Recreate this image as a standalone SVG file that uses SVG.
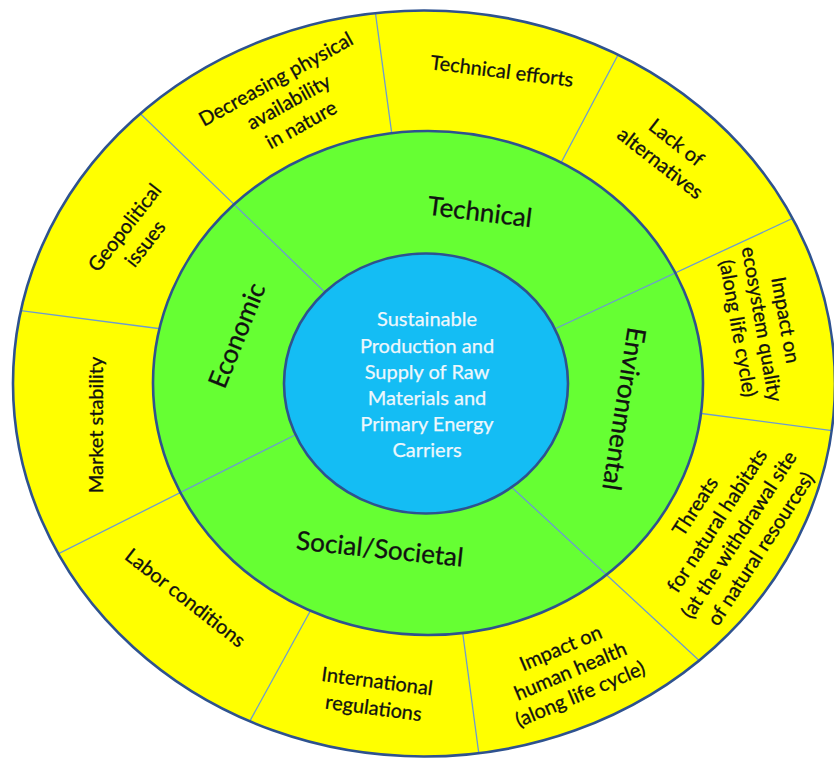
<svg xmlns="http://www.w3.org/2000/svg" width="834" height="759" viewBox="0 0 834 759">
  <style>
    .ring { stroke: none; }
    .border { fill: none; stroke: #2e528f; stroke-width: 2.6; }
    .div { stroke: #6c9bd0; stroke-width: 1.3; fill: none; }
    .lbl { font-family: Lato, "Open Sans", "Liberation Sans", sans-serif; font-size: 20px; fill: #111; stroke: #111; stroke-width: 0.3; text-anchor: middle; dominant-baseline: central; }
    .cat { font-family: Lato, "Open Sans", "Liberation Sans", sans-serif; font-size: 26px; fill: #111; stroke: #111; stroke-width: 0.3; text-anchor: middle; dominant-baseline: central; }
    .core { font-family: Lato, "Open Sans", "Liberation Sans", sans-serif; font-size: 20px; fill: #eef7fc; stroke: #eef7fc; stroke-width: 0.25; text-anchor: middle; dominant-baseline: central; }
  </style>
  <defs>
    <clipPath id="clipYellow">
      <path clip-rule="evenodd" d="M13,383.5 a411,373 0 1,0 822,0 a411,373 0 1,0 -822,0 Z M153,383 a275,252 0 1,0 550,0 a275,252 0 1,0 -550,0 Z"/>
    </clipPath>
    <clipPath id="clipOuterBlue">
      <path clip-rule="evenodd" d="M13,383.5 a411,373 0 1,0 822,0 a411,373 0 1,0 -822,0 Z M284,383.5 a142,130 0 1,0 284,0 a142,130 0 1,0 -284,0 Z"/>
    </clipPath>
  </defs>

  <g id="outer-ring">
    <ellipse class="ring" cx="424" cy="383.5" rx="411" ry="373" fill="#ffff00"/>
  </g>
  <g id="middle-ring">
    <ellipse class="ring" cx="428" cy="383" rx="275" ry="252" fill="#66ff33"/>
  </g>
  <g id="core-circle">
    <ellipse class="ring" cx="426" cy="383.5" rx="142" ry="130" fill="#14bdf4"/>
  </g>

  <g id="connectors">
    <g clip-path="url(#clipYellow)">
      <line class="div" x1="394" y1="150" x2="373" y2="-5"/>
      <line class="div" x1="553" y1="178" x2="628" y2="36"/>
      <line class="div" x1="690" y1="412" x2="850" y2="433"/>
      <line class="div" x1="461" y1="620" x2="481" y2="770"/>
      <line class="div" x1="318" y1="597" x2="240" y2="739"/>
      <line class="div" x1="170" y1="330" x2="0" y2="308"/>
    </g>
    <g clip-path="url(#clipOuterBlue)">
      <line class="div" x1="335" y1="302" x2="120" y2="94"/>
      <line class="div" x1="546" y1="333" x2="830" y2="201"/>
      <line class="div" x1="505" y1="481" x2="730" y2="689"/>
      <line class="div" x1="303" y1="431" x2="30" y2="568"/>
    </g>
  </g>

  <g id="borders">
    <ellipse class="border" cx="424" cy="383.5" rx="411" ry="373"/>
    <ellipse class="border" cx="428" cy="383" rx="275" ry="252"/>
    <ellipse class="border" cx="426" cy="383.5" rx="142" ry="130"/>
  </g>

  <g id="center">
    <text class="core" x="427" y="318">Sustainable</text>
    <text class="core" x="427" y="344.5">Production and</text>
    <text class="core" x="427" y="370.5">Supply of Raw</text>
    <text class="core" x="427" y="396.5">Materials and</text>
    <text class="core" x="427" y="422.5">Primary Energy</text>
    <text class="core" x="427" y="448.5">Carriers</text>
  </g>

  <g id="cat-technical" transform="translate(480,211) rotate(7)">
    <text class="cat" x="0" y="0">Technical</text>
  </g>
  <g id="cat-environmental" transform="translate(625,409) rotate(99)">
    <text class="cat" x="0" y="0">Environmental</text>
  </g>
  <g id="cat-social" transform="translate(380,548) rotate(6)">
    <text class="cat" x="0" y="0">Social/Societal</text>
  </g>
  <g id="cat-economic" transform="translate(236,335) rotate(-68)">
    <text class="cat" x="0" y="0">Economic</text>
  </g>

  <g id="lbl-decreasing" transform="translate(288,101) rotate(-29)">
    <text class="lbl" x="0" y="-26">Decreasing physical</text>
    <text class="lbl" x="0" y="0">availability</text>
    <text class="lbl" x="0" y="26">in nature</text>
  </g>
  <g id="lbl-technical-efforts" transform="translate(502,70) rotate(7)">
    <text class="lbl" x="0" y="0">Technical efforts</text>
  </g>
  <g id="lbl-lack" transform="translate(669,152) rotate(38)">
    <text class="lbl" x="0" y="-13">Lack of</text>
    <text class="lbl" x="0" y="13">alternatives</text>
  </g>
  <g id="lbl-ecosystem" transform="translate(763,324) rotate(80)">
    <text class="lbl" x="0" y="-24">Impact on</text>
    <text class="lbl" x="0" y="0">ecosystem quality</text>
    <text class="lbl" x="0" y="24">(along life cycle)</text>
  </g>
  <g id="lbl-threats" transform="translate(727,527) rotate(-57)">
    <text class="lbl" x="0" y="-39">Threats</text>
    <text class="lbl" x="0" y="-13">for natural habitats</text>
    <text class="lbl" x="0" y="13">(at the withdrawal site</text>
    <text class="lbl" x="0" y="39">of natural resources)</text>
  </g>
  <g id="lbl-human-health" transform="translate(570,670) rotate(-23)">
    <text class="lbl" x="0" y="-25">Impact on</text>
    <text class="lbl" x="0" y="0">human health</text>
    <text class="lbl" x="0" y="25">(along life cycle)</text>
  </g>
  <g id="lbl-international" transform="translate(375.5,693.5) rotate(7.5)">
    <text class="lbl" x="0" y="-13.5">International</text>
    <text class="lbl" x="0" y="13.5">regulations</text>
  </g>
  <g id="lbl-labor" transform="translate(186,597) rotate(38)">
    <text class="lbl" x="0" y="0">Labor conditions</text>
  </g>
  <g id="lbl-market" transform="translate(95,425) rotate(-90)">
    <text class="lbl" x="0" y="0">Market stability</text>
  </g>
  <g id="lbl-geopolitical" transform="translate(134,235) rotate(-52)">
    <text class="lbl" x="0" y="-13">Geopolitical</text>
    <text class="lbl" x="0" y="13">issues</text>
  </g>
</svg>
